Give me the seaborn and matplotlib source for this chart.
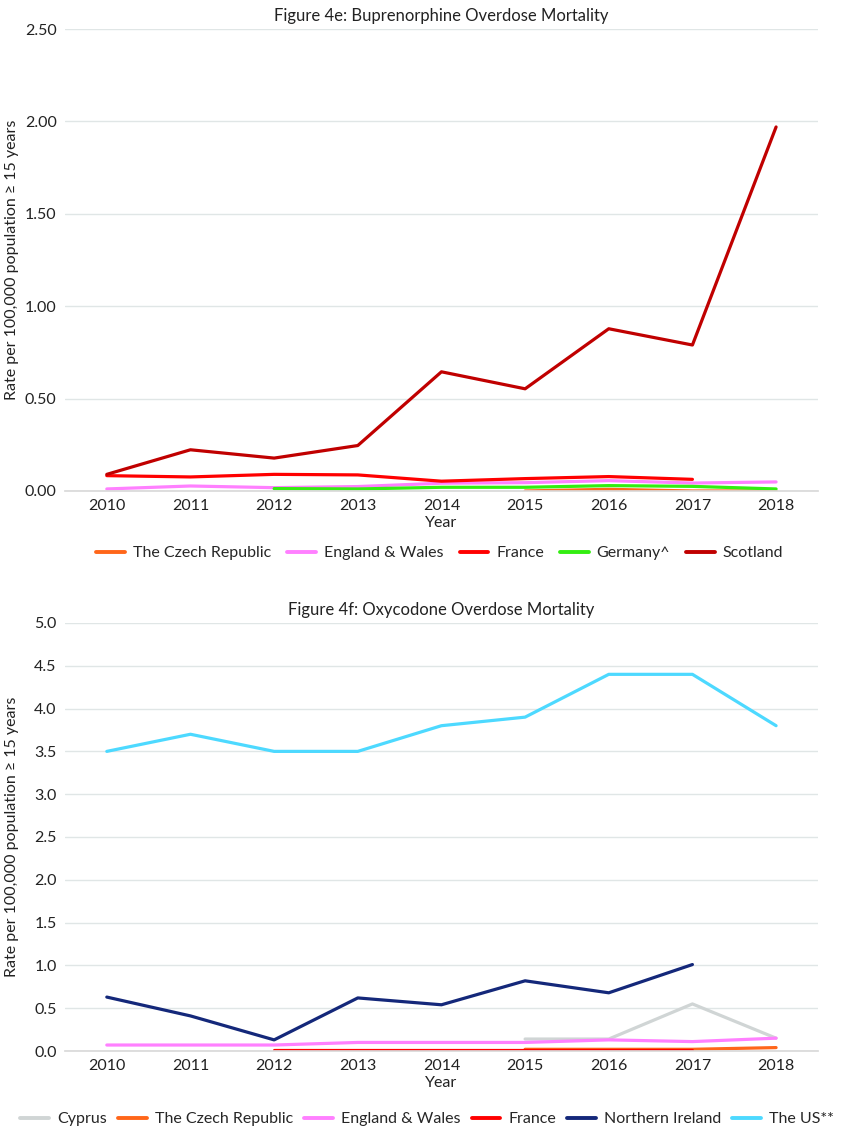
import pandas as pd
import seaborn as sns
import matplotlib.pyplot as plt
import numpy as np

years = [2010, 2011, 2012, 2013, 2014, 2015, 2016, 2017, 2018]
nan = np.nan

# Figure 4e: buprenorphine
bup_czech = [nan, nan, nan, nan, nan, 0.00, 0.009, 0.00, 0.00]
bup_england = [0.011, 0.027, 0.018, 0.024, 0.042, 0.045, 0.056, 0.043, 0.049]
bup_france = [0.083, 0.076, 0.09, 0.087, 0.053, 0.067, 0.078, 0.063, nan]
bup_germany = [nan, nan, 0.013, 0.011, 0.02, 0.02, 0.029, 0.025, 0.011]
bup_scotland = [0.09, 0.223, 0.178, 0.246, 0.645, 0.553, 0.878, 0.79, 1.97]

# Figure 4f: oxycodone
oxy_cyprus = [nan, nan, nan, nan, nan, 0.14, 0.14, 0.55, 0.15]
oxy_czech = [nan, nan, nan, nan, nan, 0.02, 0.02, 0.02, 0.04]
oxy_england = [0.07, 0.07, 0.07, 0.10, 0.10, 0.10, 0.13, 0.11, 0.15]
oxy_france = [nan, nan, 0.01, 0.01, 0.01, 0.01, 0.01, 0.01, nan]
oxy_ni = [0.63, 0.41, 0.13, 0.62, 0.54, 0.82, 0.68, 1.01, nan]
oxy_us = [3.5, 3.7, 3.5, 3.5, 3.8, 3.9, 4.4, 4.4, 3.8]

bup_series = {'The Czech Republic': bup_czech, 'England & Wales': bup_england,
              'France': bup_france, 'Germany^': bup_germany, 'Scotland': bup_scotland}
oxy_series = {'Cyprus': oxy_cyprus, 'The Czech Republic': oxy_czech,
              'England & Wales': oxy_england, 'France': oxy_france,
              'Northern Ireland': oxy_ni, 'The US**': oxy_us}

colors = {'The Czech Republic': '#FF661A', 'England & Wales': '#FF80FF',
          'France': '#FF0000', 'Germany^': '#33EE11', 'Scotland': '#C00000',
          'Cyprus': '#D0D5D5', 'Northern Ireland': '#14287A', 'The US**': '#4DD9FF'}


def to_long(series):
    rows = []
    for name, vals in series.items():
        for y, v in zip(years, vals):
            rows.append({'Year': y, 'Country': name, 'Rate': v})
    return pd.DataFrame(rows).dropna()


sns.set_theme(style='white')
plt.rcParams['font.family'] = ['Lato', 'DejaVu Sans']
plt.rcParams['font.size'] = 11.5

fig = plt.figure(figsize=(8.46, 11.30), dpi=100)
ax1 = fig.add_axes([0.0768, 0.5655, 0.890, 0.4088])
ax2 = fig.add_axes([0.0768, 0.0699, 0.890, 0.3788])

ylab = 'Rate per 100,000 population \u2265 15 years'


def style(ax, df, series, ylim, yticks, fmt, title):
    sns.lineplot(data=df, x='Year', y='Rate', hue='Country', hue_order=list(series),
                 palette=colors, linewidth=2.3, ax=ax, legend=False)
    ax.set_xlim(2009.5, 2018.5)
    ax.set_ylim(*ylim)
    ax.set_xticks(years)
    ax.set_xticklabels([str(y) for y in years], fontsize=11.5)
    ax.set_yticks(yticks)
    ax.set_yticklabels([fmt.format(t) for t in yticks], fontsize=11.5)
    ax.yaxis.grid(True, color='#E0E6E6', linewidth=1)
    ax.set_axisbelow(True)
    for s in ['top', 'right', 'left']:
        ax.spines[s].set_visible(False)
    ax.spines['bottom'].set_color('#D9D9D9')
    ax.tick_params(length=0, colors='#222222', pad=6)
    ax.set_xlabel('Year', fontsize=11.5, labelpad=2, color='#222222')
    ax.set_ylabel(ylab, fontsize=11.5, color='#222222')
    ax.yaxis.set_label_coords(-0.061, 0.5)
    ax.set_title(title, fontsize=12, pad=6, color='#222222')


style(ax1, to_long(bup_series), bup_series, (0, 2.5),
      [0, 0.5, 1.0, 1.5, 2.0, 2.5], '{:.2f}', 'Figure 4e: Buprenorphine Overdose Mortality')
style(ax2, to_long(oxy_series), oxy_series, (0, 5.0),
      [i * 0.5 for i in range(11)], '{:.1f}', 'Figure 4f: Oxycodone Overdose Mortality')


def add_legend(ax, series, anchor, spacing):
    handles = [plt.Line2D([], [], color=colors[n], linewidth=2.8) for n in series]
    ax.legend(handles, list(series), loc='center', bbox_to_anchor=anchor,
              bbox_transform=fig.transFigure, ncol=len(series), frameon=False,
              fontsize=11.5, handlelength=1.8, columnspacing=spacing, handletextpad=0.5)


add_legend(ax1, bup_series, (0.52, 0.5106), 1.0)
add_legend(ax2, oxy_series, (0.505, 0.0097), 0.7)

fig.savefig('out.png', dpi=100)
